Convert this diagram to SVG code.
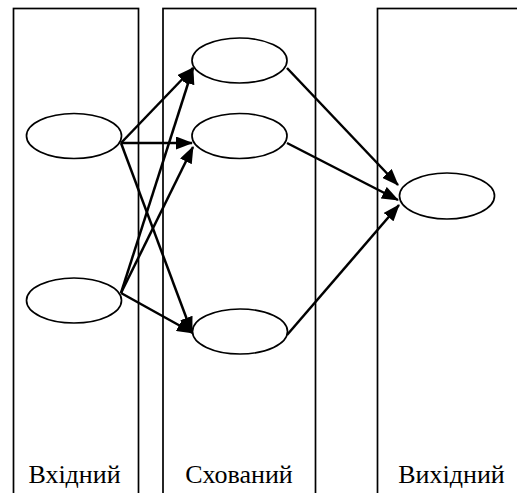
<svg xmlns="http://www.w3.org/2000/svg" width="517" height="493" viewBox="0 0 517 493">
  <style>
    .layer { fill: none; stroke: #000; stroke-width: 1.7; }
    .neuron { fill: #fff; stroke: #000; stroke-width: 1.7; }
    .link { fill: none; stroke: #000; stroke-width: 2.5; marker-end: url(#head); }
    .label { font-family: 'Liberation Serif', 'Times New Roman', serif; font-size: 26px; fill: #000; text-anchor: middle; }
  </style>
  <defs>
    <marker id="head" markerUnits="userSpaceOnUse" markerWidth="17" markerHeight="13" viewBox="0 0 17 13" refX="16" refY="6.5" orient="auto">
      <path d="M0,0 L17,6.5 L0,13 Z" fill="#000"/>
    </marker>
  </defs>

  <!-- layer columns (open past the bottom edge) -->
  <g id="layer-input">
    <rect class="layer" x="13.5" y="8.5" width="125" height="500"/>
    <text class="label" x="74.5" y="483">Вхідний</text>
  </g>
  <g id="layer-hidden">
    <rect class="layer" x="163" y="8.5" width="152.5" height="500"/>
    <text class="label" x="239" y="483">Схований</text>
  </g>
  <g id="layer-output">
    <rect class="layer" x="377.5" y="8.5" width="150" height="500"/>
    <text class="label" x="451.5" y="483">Вихідний</text>
  </g>

  <!-- connections -->
  <g id="connectors">
    <line class="link" x1="121" y1="143" x2="193" y2="68"/>
    <line class="link" x1="121" y1="143" x2="192" y2="143"/>
    <line class="link" x1="121" y1="143" x2="192" y2="333"/>
    <line class="link" x1="121" y1="293" x2="193" y2="68"/>
    <line class="link" x1="121" y1="293" x2="193" y2="147"/>
    <line class="link" x1="121" y1="293" x2="193" y2="333"/>
    <line class="link" x1="287" y1="68" x2="398" y2="185"/>
    <line class="link" x1="287" y1="143" x2="398" y2="200"/>
    <line class="link" x1="287" y1="335" x2="399" y2="205"/>
  </g>

  <!-- neurons -->
  <g id="in1"><ellipse class="neuron" cx="74" cy="136" rx="47.5" ry="22.5"/></g>
  <g id="in2"><ellipse class="neuron" cx="74" cy="300.5" rx="47.5" ry="22.5"/></g>
  <g id="h1"><ellipse class="neuron" cx="239.5" cy="60.5" rx="47.5" ry="22.5"/></g>
  <g id="h2"><ellipse class="neuron" cx="239.5" cy="136" rx="47.5" ry="22.5"/></g>
  <g id="h3"><ellipse class="neuron" cx="240" cy="331.5" rx="47.5" ry="22.5"/></g>
  <g id="out1"><ellipse class="neuron" cx="447" cy="196" rx="47.5" ry="23"/></g>
</svg>
